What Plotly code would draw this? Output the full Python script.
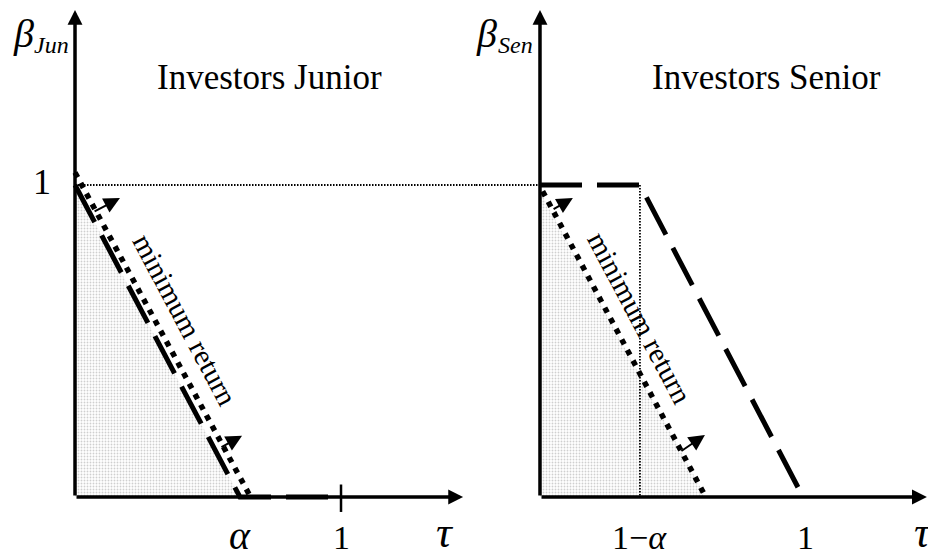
import plotly.graph_objects as go

# ---- data (model units) ----
alpha = 0.62
one_minus_alpha = 1 - alpha

# Junior panel
jun_dash_tau = [0, alpha, 1]
jun_dash_beta = [1, 0, 0]
jun_dot_tau = [0, 0.66]
jun_dot_beta = [1.04, 0]
jun_shade_tau = [0, 0, alpha, 0]
jun_shade_beta = [1, 0, 0, 1]
jun_arrows = [  # (tail_tau, tail_beta, tip_tau, tip_beta)
    (0.068, 0.913, 0.169, 0.958),
    (0.545, 0.157, 0.628, 0.196),
]

# Senior panel
sen_dash_tau = [0, one_minus_alpha, 1]
sen_dash_beta = [1, 1, 0]
sen_dot_tau = [0.01, 0.63]
sen_dot_beta = [0.98, 0]
sen_shade_tau = [0, 0, 0.63, 0]
sen_shade_beta = [0.98, 0, 0, 0.98]
sen_arrows = [
    (0.046, 0.920, 0.125, 0.958),
    (0.532, 0.144, 0.627, 0.199),
]

# axis extents (page is drawn with an 8px body margin; ranges compensate)
x_range_jun = [-0.2519, 1.5075]
x_range_sen = [-0.2433, 1.536]
y_range = [-0.2244, 1.5673]
jun_axis_tip_tau = 1.459
sen_axis_tip_tau = 1.471
axis_tip_beta = 1.561

FONT = "Liberation Serif, Times New Roman, serif"

fig = go.Figure()

def add_panel(xa, shade_t, shade_b, dash_t, dash_b, dot_t, dot_b):
    fig.add_trace(go.Scatter(
        x=shade_t, y=shade_b, xaxis=xa, yaxis="y", mode="lines",
        line=dict(width=0), fill="toself",
        fillpattern=dict(shape=".", fgcolor="#a0a0a0", bgcolor="white",
                         size=3, solidity=0.3),
        hoverinfo="skip", showlegend=False))
    fig.add_trace(go.Scatter(
        x=dash_t, y=dash_b, xaxis=xa, yaxis="y", mode="lines",
        line=dict(color="black", width=5, dash="42px,15px"),
        hoverinfo="skip", showlegend=False))
    fig.add_trace(go.Scatter(
        x=dot_t, y=dot_b, xaxis=xa, yaxis="y", mode="lines",
        line=dict(color="black", width=5.5, dash="5.5px,6.5px"),
        hoverinfo="skip", showlegend=False))

add_panel("x", jun_shade_tau, jun_shade_beta, jun_dash_tau, jun_dash_beta,
          jun_dot_tau, jun_dot_beta)
add_panel("x2", sen_shade_tau, sen_shade_beta, sen_dash_tau, sen_dash_beta,
          sen_dot_tau, sen_dot_beta)

# thin dotted guide lines at beta = 1 (spanning the gap between panels)
thin = dict(color="black", width=1.8, dash="1.5px,1.5px")
fig.add_trace(go.Scatter(x=[0, x_range_jun[1]], y=[1, 1], xaxis="x", yaxis="y",
                         mode="lines", line=thin, hoverinfo="skip", showlegend=False))
fig.add_trace(go.Scatter(x=[x_range_sen[0], 0], y=[1, 1], xaxis="x2", yaxis="y",
                         mode="lines", line=thin, hoverinfo="skip", showlegend=False))
fig.add_trace(go.Scatter(x=[one_minus_alpha, one_minus_alpha], y=[1, 0],
                         xaxis="x2", yaxis="y", mode="lines", line=thin,
                         hoverinfo="skip", showlegend=False))
# tick at tau = 1 on junior axis
fig.add_trace(go.Scatter(x=[1, 1], y=[0.04, -0.048], xaxis="x", yaxis="y",
                         mode="lines", line=dict(color="black", width=2.5),
                         hoverinfo="skip", showlegend=False))

ann = []
def arrow(xa, tail, tip, width, size):
    ann.append(dict(xref=xa, yref="y", axref=xa, ayref="y",
                    x=tip[0], y=tip[1], ax=tail[0], ay=tail[1], text="",
                    showarrow=True, arrowhead=2, arrowwidth=width,
                    arrowsize=size, arrowcolor="black", standoff=0,
                    startstandoff=0))

# axes
arrow("x", (0, 0), (0, axis_tip_beta), 3.5, 0.85)
arrow("x", (0, 0), (jun_axis_tip_tau, 0), 3.5, 0.85)
arrow("x2", (0, 0), (0, axis_tip_beta), 3.5, 0.85)
arrow("x2", (0, 0), (sen_axis_tip_tau, 0), 3.5, 0.85)
# normal arrows
for a in jun_arrows:
    arrow("x", a[:2], a[2:], 2, 1.6)
for a in sen_arrows:
    arrow("x2", a[:2], a[2:], 2, 1.6)

def label(xa, x, y, text, size, angle=0, xanchor="center"):
    ann.append(dict(xref=xa, yref="y", x=x, y=y, text=text, showarrow=False,
                    textangle=angle, xanchor=xanchor, yanchor="middle",
                    font=dict(family=FONT, size=size, color="black")))

label("x", 0.733, 1.345, "Investors Junior", 35)
label("x2", 0.86, 1.345, "Investors Senior", 35)
label("x", -0.125, 1.01, "1", 36)
label("x", alpha, -0.125, "<i>α</i>", 40)
label("x", 1, -0.13, "1", 34)
label("x", 1.391, -0.113, "<i>τ</i>", 44)
label("x2", one_minus_alpha, -0.13, "1−<i>α</i>", 34)
label("x2", 1.01, -0.13, "1", 34)
label("x2", 1.456, -0.113, "<i>τ</i>", 44)
# beta axis titles with italic subscripts
label("x", -0.192, 1.485, "<i>β</i>", 40)
label("x", -0.162, 1.448, "<i>Jun</i>", 24, xanchor="left")
label("x2", -0.205, 1.485, "<i>β</i>", 40)
label("x2", -0.168, 1.448, "<i>Sen</i>", 24, xanchor="left")
label("x", 0.414, 0.567, "minimum return", 29, 62)
label("x2", 0.38, 0.574, "minimum return", 29, 62)

fig.update_layout(
    width=936, height=559, autosize=False,
    margin=dict(l=0, r=0, t=0, b=0),
    paper_bgcolor="white", plot_bgcolor="white",
    showlegend=False, annotations=ann,
    xaxis=dict(domain=[0, 0.5], range=x_range_jun, visible=False, fixedrange=True),
    xaxis2=dict(domain=[0.5, 1], range=x_range_sen, visible=False, anchor="y",
                fixedrange=True),
    yaxis=dict(domain=[0, 1], range=y_range, visible=False, fixedrange=True),
)

fig.write_html("out.html")
